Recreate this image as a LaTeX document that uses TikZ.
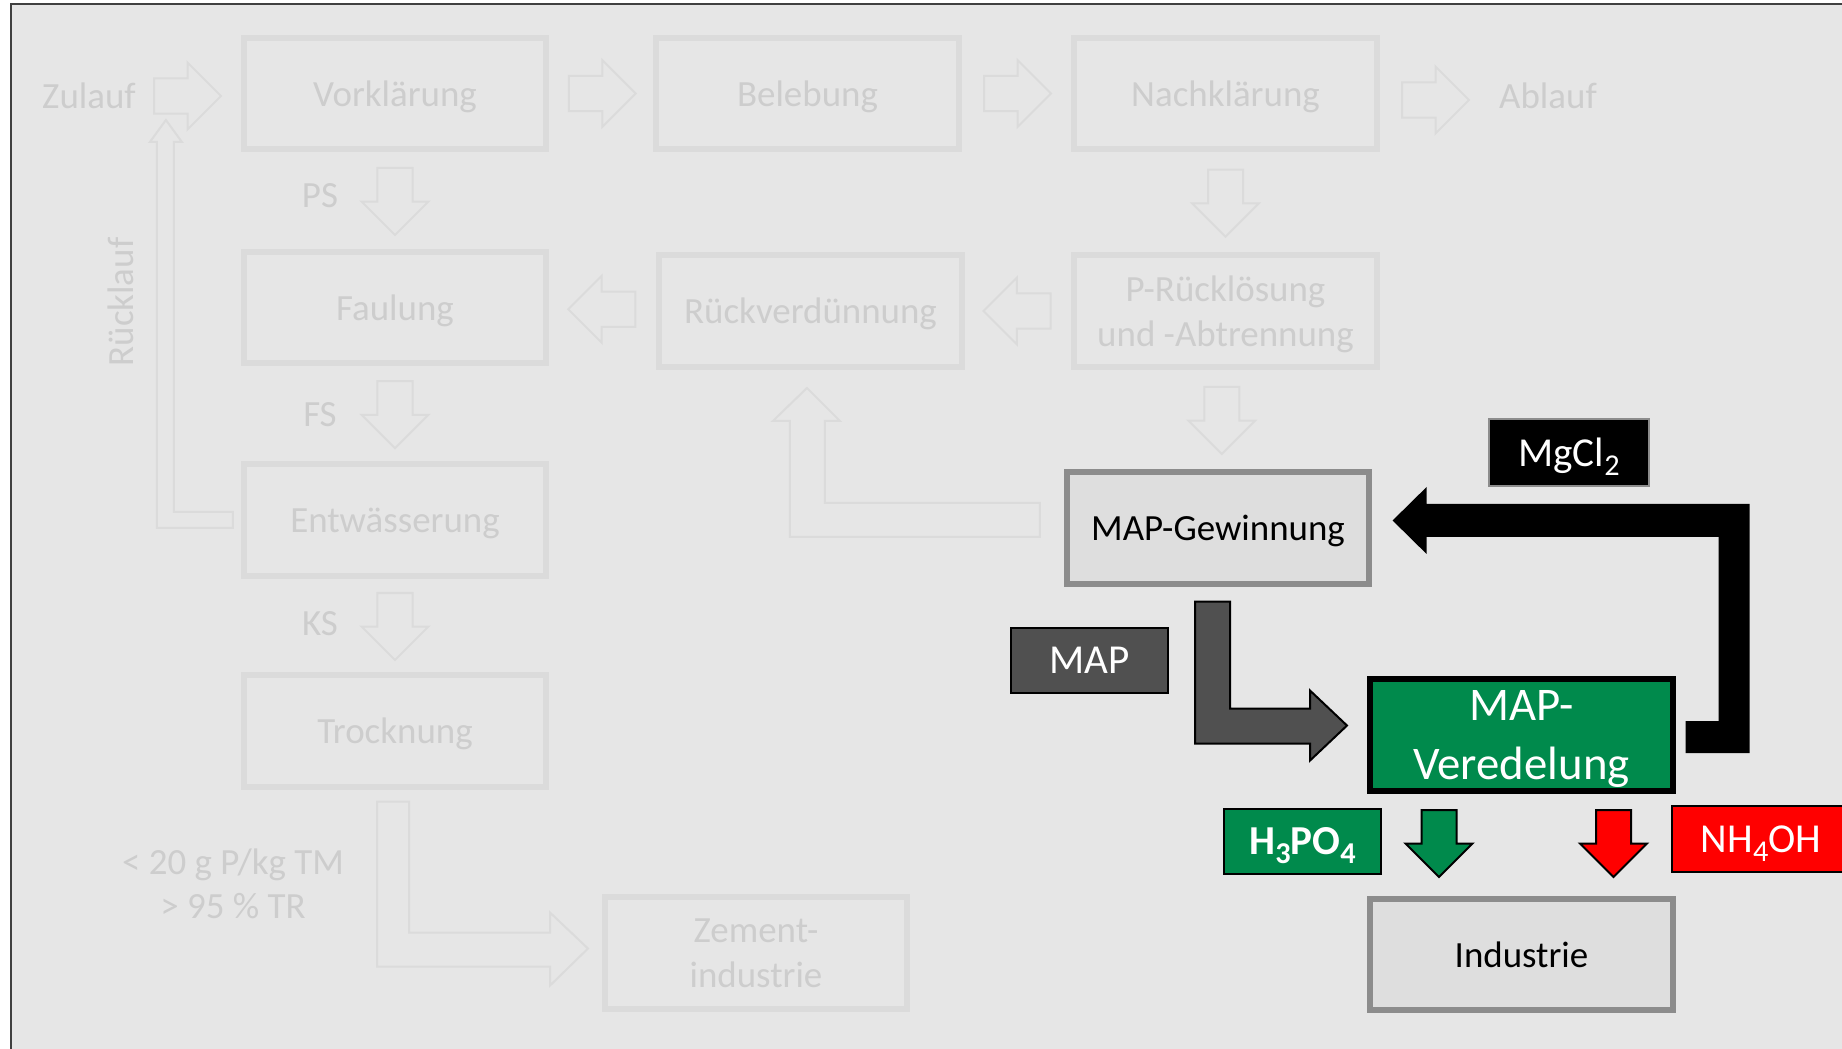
\documentclass[tikz,border=0pt]{standalone}
\usepackage{fontspec}
\setmainfont{Carlito}
\usepackage{xcolor}
\usepackage{tikz}
\usetikzlibrary{positioning,calc,shapes.arrows}
\definecolor{bgGrey}{HTML}{E6E6E6}
\definecolor{fadeLine}{HTML}{DBDBDB}
\definecolor{fadeText}{HTML}{CDCDCD}
\definecolor{boxGrey}{HTML}{DEDEDE}
\definecolor{boxLine}{HTML}{8C8C8C}
\definecolor{mapGreen}{HTML}{008A4C}
\definecolor{mapDark}{HTML}{505050}
\definecolor{nhRed}{HTML}{FF0000}
\newcommand{\chemsub}[1]{\raisebox{-0.45ex}{\fontsize{8.6}{10}\selectfont #1}}

\begin{document}
\begin{tikzpicture}[x=0.01cm, y=-0.01cm, font=\fontsize{10.5}{12.7}\selectfont,
  fadebox/.style={draw=fadeLine, fill=bgGrey, line width=0.06cm, text=fadeText, minimum width=3.02cm, minimum height=1.11cm, inner sep=0pt, text depth=0pt, align=center},
  greybox/.style={draw=boxLine, fill=boxGrey, line width=0.06cm, minimum width=3.02cm, minimum height=1.11cm, inner sep=0pt, text depth=0pt, align=center},
  tagbox/.style={draw=black, line width=0.02cm, minimum width=1.57cm, minimum height=0.65cm, inner sep=0pt, text depth=0pt, text=white, font=\fontsize{11.7}{14}\selectfont},
  fadetxt/.style={text=fadeText, align=center},
  flowarrow/.style={single arrow, single arrow tip angle=90, single arrow head extend=0.16cm, minimum height=0.67cm, inner xsep=0pt, inner ysep=0.165cm, line width=0.02cm, anchor=tail},
  fadeflow/.style={draw=fadeLine, fill=bgGrey, line width=0.02cm}]
\useasboundingbox (0,0) rectangle (1842,1049);
\fill[white] (0,0) rectangle (1842,1049);
\draw[black!75, line width=0.02cm, fill=bgGrey] (11,4) rectangle (1900,1100);

% faded process chain
\node[fadetxt] (zulauf) at (89,96) {Zulauf};
\node[fadebox] (vork) at (395,93.5) {Vorklärung};
\node[fadebox] (beleb) at (807.5,93.5) {Belebung};
\node[fadebox] (nach) at (1225.5,93.5) {Nachklärung};
\node[fadetxt] (ablauf) at (1548,96) {Ablauf};
\node[fadebox] (faul) at (395,307.5) {Faulung};
\node[fadebox] (rueckv) at (810.5,311) {Rückverdünnung};
\node[fadebox] (prueck) at (1225.5,311) {P-Rücklösung\\und -Abtrennung};
\node[fadebox] (entw) at (395,520) {Entwässerung};
\node[fadebox] (trock) at (395,731) {Trocknung};
\node[fadebox] (zement) at (756,953) {Zement-\\industrie};
\node[fadetxt] (ps) at (320,196) {PS};
\node[fadetxt] (fs) at (320,415) {FS};
\node[fadetxt] (ks) at (320,624) {KS};
\node[fadetxt, rotate=90] (ruecklauf) at (121,302) {Rücklauf};
\node[fadetxt] (grenz) at (233,884) {< 20 g P/kg TM\\> 95 \% TR};

% straight block arrows, placed by their tail
\node[flowarrow, fadeflow] (a1) at (153,96) {};
\node[flowarrow, fadeflow] (a2) at ($(vork.east)!0.5!(beleb.west)+(-33.5,0)$) {};
\node[flowarrow, fadeflow] (a3) at ($(beleb.east)!0.5!(nach.west)+(-33.5,0)$) {};
\node[flowarrow, fadeflow] (a4) at (1401,100) {};
\node[flowarrow, fadeflow, rotate=-90] (a5) at ($(vork.south)!0.5!(faul.north)+(0,-33.5)$) {};
\node[flowarrow, fadeflow, rotate=-90] (a6) at ($(faul.south)!0.5!(entw.north)+(0,-33.5)$) {};
\node[flowarrow, fadeflow, rotate=-90] (a7) at ($(entw.south)!0.5!(trock.north)+(0,-33.5)$) {};
\node[flowarrow, fadeflow, rotate=-90] (a8) at ($(nach.south)!0.5!(prueck.north)+(0,-33.5)$) {};
\node[flowarrow, fadeflow, rotate=180] (a9) at ($(prueck.west)!0.5!(rueckv.east)+(33.5,0)$) {};
\node[flowarrow, fadeflow, rotate=180] (a10) at ($(rueckv.west)!0.5!(faul.east)+(33.5,0)$) {};

% faded bent arrows
\draw[fadeflow] ($(entw.west)+(-8,-8)$) -- ++(-59,0) -- ++(0,-370) -- ++(8,0) -- ++(-16,-22) -- ++(-16,22) -- ++(7,0) -- ++(0,386) -- ++(76,0) -- cycle;
\draw[fadeflow] ($(trock.south)+(-18,12)$) -- ++(32,0) -- ++(0,131) -- ++(141,0) -- ++(0,-20) -- ++(38,36) -- ++(-38,37) -- ++(0,-19) -- ++(-173,0) -- cycle;

% MAP part
\node[greybox] (gew) at (1218,528) {MAP-Gewinnung};
\node[flowarrow, fadeflow, rotate=-90] (a11) at ($(prueck.south)!0.5!(gew.north)+(0,-33.5)$) {};
\draw[fadeflow] ($(gew.west)+(-24,-25)$) -- ++(-215,0) -- ++(0,-82) -- ++(15,0) -- ++(-33,-33) -- ++(-34,33) -- ++(17,0) -- ++(0,116) -- ++(250,0) -- cycle;

\node[draw=black, fill=mapGreen, line width=0.06cm, minimum width=3.02cm, minimum height=1.11cm, inner sep=0pt, text depth=0pt, align=center, text=white, font=\fontsize{13.3}{16.7}\selectfont] (vered) at (1521.5,735) {MAP-\\Veredelung};
\node[greybox] (indus) at (1521.5,954.5) {Industrie};

\node[tagbox, fill=black, draw=boxLine, minimum width=1.6cm, minimum height=0.67cm] (mgcl) at (1569,452.5) {MgCl\chemsub{2}};
\node[tagbox, fill=mapDark] (map) at (1089.5,660.5) {MAP};
\node[tagbox, fill=mapGreen] (hpo) at (1302.5,841.5) {\textbf{H\chemsub{\bfseries 3}PO\chemsub{\bfseries 4}}};
\node[tagbox, fill=nhRed, minimum width=1.78cm, minimum height=0.66cm] (nhoh) at (1761,839) {NH\chemsub{4}OH};

\draw[fill=mapDark, draw=black, line width=0.02cm] ($(gew.south)+(-23,15)$) -- ++(35,0) -- ++(0,107) -- ++(80,0) -- ++(0,-18) -- ++(37,35) -- ++(-37,35) -- ++(0,-17) -- ++(-115,0) -- cycle;
\fill[black] ($(vered.east)+(10,-14)$) -- ++(33,0) -- ++(0,-184) -- ++(-292,0) -- ++(0,17) -- ++(-34,-33.5) -- ++(34,-33.5) -- ++(0,17) -- ++(323,0) -- ++(0,249) -- ++(-64,0) -- cycle;

\node[flowarrow, rotate=-90, fill=mapGreen, draw=black] (hdown) at (1439,809) {};
\node[flowarrow, rotate=-90, fill=nhRed, draw=black] (ndown) at (1613.5,809) {};
\end{tikzpicture}
\end{document}
